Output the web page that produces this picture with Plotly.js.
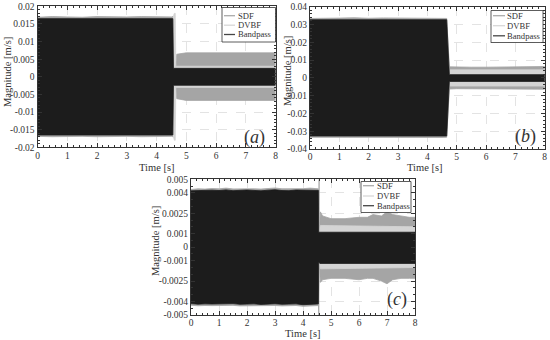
<!DOCTYPE html>
<html>
<head>
<meta charset="utf-8">
<script src="https://cdn.plot.ly/plotly-3.0.1.min.js"></script>
<style>body{margin:0;background:#fff;} #chart{width:550px;height:340px;}</style>
</head>
<body>
<div id="chart"></div>
<script>
// series names / colours
var names = ['SDF', 'DVBF', 'Bandpass'];
var fills = ['rgb(165,165,165)', 'rgb(212,212,212)', 'rgb(28,28,28)'];
var legendLines = ['rgb(170,170,170)', 'rgb(215,215,215)', 'rgb(70,70,70)'];

var xTicks = [0, 1, 2, 3, 4, 5, 6, 7, 8];

// (a) envelopes
var aSdfT  = [0, 0.5, 1, 1.5, 2, 2.5, 3, 3.5, 4, 4.5, 4.55, 4.56, 4.63, 4.68, 5, 5.5, 6, 6.5, 7, 7.5, 8];
var aSdfUp = [0.0169, 0.0171, 0.0170, 0.0169, 0.0171, 0.0170, 0.0170, 0.0171, 0.0170, 0.0170, 0.0171, 0.002, 0.002, 0.0064, 0.0068, 0.0068, 0.0068, 0.0068, 0.0068, 0.0068, 0.0068];
var aSdfLo = [-0.0169, -0.0170, -0.0170, -0.0169, -0.0170, -0.0170, -0.0169, -0.0170, -0.0170, -0.0169, -0.0170, -0.002, -0.002, -0.0062, -0.0067, -0.0067, -0.0067, -0.0067, -0.0067, -0.0067, -0.0067];
var aDvbfT  = [0, 4.55, 4.58, 4.6, 4.63, 4.65, 8];
var aDvbfUp = [0.0163, 0.0163, 0.0175, 0.0180, 0.0180, 0.0030, 0.0030];
var aDvbfLo = [-0.0163, -0.0163, -0.0175, -0.0180, -0.0180, -0.0030, -0.0030];
var aBandT  = [0, 4.55, 4.57, 8];
var aBandUp = [0.0165, 0.0165, 0.0024, 0.0024];
var aBandLo = [-0.0165, -0.0165, -0.0024, -0.0024];
var aYTicks = [-0.02, -0.015, -0.01, -0.005, 0, 0.005, 0.01, 0.015, 0.02];
var aYText  = ['-0.02', '-0.015', '-0.01', '-0.005', '0', '0.005', '0.01', '0.015', '0.02'];

// (b)
var bSdfT  = [0, 0.5, 1, 1.5, 2, 2.5, 3, 3.5, 4, 4.5, 4.66, 4.75, 5, 5.5, 6, 6.5, 7, 7.5, 8];
var bSdfUp = [0.0334, 0.0337, 0.0336, 0.0338, 0.0335, 0.0337, 0.0336, 0.0337, 0.0335, 0.0336, 0.0334, 0.0062, 0.0060, 0.0060, 0.0060, 0.0061, 0.0061, 0.0062, 0.0064];
var bSdfLo = [-0.0334, -0.0336, -0.0336, -0.0337, -0.0335, -0.0336, -0.0336, -0.0337, -0.0335, -0.0335, -0.0334, -0.0063, -0.0061, -0.0061, -0.0061, -0.0061, -0.0062, -0.0063, -0.0064];
var bDvbfT  = [0, 4.66, 4.75, 8];
var bDvbfUp = [0.0326, 0.0326, 0.0045, 0.0045];
var bDvbfLo = [-0.0326, -0.0326, -0.0046, -0.0046];
var bBandT  = [0, 4.66, 4.75, 8];
var bBandUp = [0.0327, 0.0327, 0.0018, 0.0018];
var bBandLo = [-0.0327, -0.0327, -0.0020, -0.0020];
var bYTicks = [-0.04, -0.03, -0.02, -0.01, 0, 0.01, 0.02, 0.03, 0.04];
var bYText  = ['-0.04', '-0.03', '-0.02', '-0.01', '0', '0.01', '0.02', '0.03', '0.04'];

// (c)
var cSdfT  = [0, 0.25, 0.5, 0.75, 1, 1.25, 1.5, 1.75, 2, 2.25, 2.5, 2.75, 3, 3.25, 3.5, 3.75, 4, 4.25, 4.5, 4.55, 4.56, 4.565, 4.575, 4.58, 4.62, 4.7, 5, 5.5, 6, 6.3, 6.5, 6.8, 7, 7.2, 7.5, 7.8, 8];
var cSdfUp = [0.00425, 0.00430, 0.00428, 0.00432, 0.00430, 0.00435, 0.00429, 0.00431, 0.00433, 0.00430, 0.00428, 0.00432, 0.00436, 0.00430, 0.00429, 0.00433, 0.00431, 0.00435, 0.00432, 0.00430, 0.0011, 0.0050, 0.0050, 0.0011, 0.0026, 0.0023, 0.0021, 0.0021, 0.0022, 0.0022, 0.0024, 0.0023, 0.0026, 0.0024, 0.0023, 0.0022, 0.0022];
var cSdfLo = [-0.00428, -0.00432, -0.00430, -0.00431, -0.00434, -0.00430, -0.00429, -0.00433, -0.00431, -0.00430, -0.00434, -0.00431, -0.00430, -0.00433, -0.00432, -0.00430, -0.00436, -0.00433, -0.00431, -0.00430, -0.0011, -0.0050, -0.0050, -0.0011, -0.0026, -0.0024, -0.0023, -0.0023, -0.0024, -0.0023, -0.0023, -0.0025, -0.0027, -0.0024, -0.0023, -0.0023, -0.0023];
var cDvbfT  = [0, 4.55, 4.58, 4.62, 8];
var cDvbfUp = [0.0041, 0.0041, 0.0011, 0.0016, 0.0015];
var cDvbfLo = [-0.0041, -0.0041, -0.0011, -0.0016, -0.0015];
var cBandT  = [0, 0.25, 0.5, 0.75, 1, 1.25, 1.5, 1.75, 2, 2.25, 2.5, 2.75, 3, 3.25, 3.5, 3.75, 4, 4.25, 4.5, 4.55, 4.56, 4.6, 8];
var cBandUp = [0.00415, 0.00418, 0.00416, 0.00420, 0.00417, 0.00422, 0.00416, 0.00419, 0.00421, 0.00418, 0.00415, 0.00420, 0.00423, 0.00417, 0.00416, 0.00421, 0.00419, 0.00422, 0.00420, 0.00418, 0.0011, 0.0011, 0.0011];
var cBandLo = [-0.00416, -0.00420, -0.00418, -0.00419, -0.00422, -0.00417, -0.00416, -0.00421, -0.00419, -0.00418, -0.00422, -0.00419, -0.00417, -0.00421, -0.00420, -0.00418, -0.00424, -0.00421, -0.00419, -0.00418, -0.0011, -0.0012, -0.0012];
var cYTicks = [-0.005, -0.004, -0.0025, -0.001, 0, 0.001, 0.0025, 0.004, 0.005];
var cYText  = ['-0.005', '-0.004', '-0.0025', '-0.001', '0', '0.001', '0.0025', '0.004', '0.005'];

var serif = '"Liberation Serif", "DejaVu Serif", serif';

function band(t, up, lo, i, xa, ya) {
    var rt = t.slice().reverse();
    var rl = lo.slice().reverse();
    return {
        x: t.concat(rt),
        y: up.concat(rl),
        xaxis: xa, yaxis: ya,
        type: 'scatter', mode: 'lines',
        fill: 'toself', fillcolor: fills[i],
        line: {color: fills[i], width: 0.8},
        hoverinfo: 'skip', showlegend: false
    };
}

var data = [
    band(aSdfT, aSdfUp, aSdfLo, 0, 'x', 'y'),
    band(aDvbfT, aDvbfUp, aDvbfLo, 1, 'x', 'y'),
    band(aBandT, aBandUp, aBandLo, 2, 'x', 'y'),
    band(bSdfT, bSdfUp, bSdfLo, 0, 'x2', 'y2'),
    band(bDvbfT, bDvbfUp, bDvbfLo, 1, 'x2', 'y2'),
    band(bBandT, bBandUp, bBandLo, 2, 'x2', 'y2'),
    band(cSdfT, cSdfUp, cSdfLo, 0, 'x3', 'y3'),
    band(cDvbfT, cDvbfUp, cDvbfLo, 1, 'x3', 'y3'),
    band(cBandT, cBandUp, cBandLo, 2, 'x3', 'y3')
];

function px(v) { return v / 550; }
function py(v) { return 1 - v / 340; }

function xaxis(dom, anchor) {
    return {
        domain: dom, anchor: anchor, range: [0, 8],
        tickvals: xTicks, ticktext: xTicks.map(String),
        ticks: 'inside', ticklen: 4, tickcolor: '#333',
        showline: true, linecolor: '#333', linewidth: 1, mirror: 'allticks',
        showgrid: true, gridcolor: '#dcdcdc', griddash: 'dash', gridwidth: 0.8,
        zeroline: false, ticklabelstandoff: -1,
        minor: {dtick: 0.2, ticks: 'inside', ticklen: 2, tickcolor: '#333', showgrid: false},
        tickfont: {family: serif, size: 9.5, color: '#333'}
    };
}
function yaxis(dom, anchor, lim, tv, tt, minorStep) {
    return {
        domain: dom, anchor: anchor, range: [-lim, lim],
        tickmode: 'array', tickvals: tv, ticktext: tt,
        ticks: 'inside', ticklen: 4, tickcolor: '#333',
        showline: true, linecolor: '#333', linewidth: 1, mirror: 'allticks',
        showgrid: true, gridcolor: '#dcdcdc', griddash: 'dash', gridwidth: 0.8,
        zeroline: false,
        minor: {tickmode: 'linear', tick0: 0, dtick: minorStep, ticks: 'inside', ticklen: 2, tickcolor: '#333', showgrid: false},
        tickfont: {family: serif, size: 9.5, color: '#333'}
    };
}

var shapes = [];
var annotations = [];

function legendBox(l, t, r, b, rows, lx0, lx1, tx) {
    shapes.push({type: 'rect', xref: 'paper', yref: 'paper',
        x0: px(l), x1: px(r), y0: py(b), y1: py(t),
        fillcolor: 'white', line: {color: '#333', width: 0.8}});
    for (var i = 0; i < names.length; i++) {
        shapes.push({type: 'line', xref: 'paper', yref: 'paper',
            x0: px(lx0), x1: px(lx1), y0: py(rows[i]), y1: py(rows[i]),
            line: {color: legendLines[i], width: 1.3}});
        annotations.push({xref: 'paper', yref: 'paper', x: px(tx), y: py(rows[i]),
            xanchor: 'left', yanchor: 'middle', showarrow: false, text: names[i],
            borderpad: 0, font: {family: serif, size: 8.6, color: '#333'}});
    }
}
legendBox(222, 7.5, 275.5, 42, [15.7, 25.2, 34.5], 224, 235, 236.5);
legendBox(491, 10.5, 543, 42.5, [15.7, 25.7, 35.8], 493, 505, 506);
legendBox(361, 181.5, 411, 212.5, [185.7, 196, 205.7], 363, 374, 375.5);

function label(x, y, txt, size, angle) {
    annotations.push({xref: 'paper', yref: 'paper', x: px(x), y: py(y),
        xanchor: 'center', yanchor: 'middle', showarrow: false, text: txt,
        textangle: angle || 0, font: {family: serif, size: size, color: '#333'}});
}
label(7, 72, 'Magnitude [m/s]', 10.5, -90);
label(157, 167, 'Time [s]', 10.5);
label(287, 71, 'Magnitude [m/s]', 10.5, -90);
label(425, 167, 'Time [s]', 10.5);
label(155, 241, 'Magnitude [m/s]', 10.5, -90);
label(303, 333, 'Time [s]', 10.5);
label(254, 137, '(<i>a</i>)', 18);
label(525, 136, '(<i>b</i>)', 18);
label(397, 299, '(<i>c</i>)', 18);

var layout = {
    width: 550, height: 340,
    margin: {l: 0, r: 0, t: 0, b: 0},
    paper_bgcolor: 'white', plot_bgcolor: 'white',
    showlegend: false,
    font: {family: serif},
    xaxis: xaxis([px(37.5), px(275.5)], 'y'),
    yaxis: yaxis([py(147.3), py(6.3)], 'x', 0.02, aYTicks, aYText, 0.001),
    xaxis2: xaxis([px(310), px(544.7)], 'y2'),
    yaxis2: yaxis([py(149), py(6.7)], 'x2', 0.04, bYTicks, bYText, 0.002),
    xaxis3: xaxis([px(191), px(415)], 'y3'),
    yaxis3: yaxis([py(315), py(179.3)], 'x3', 0.005, cYTicks, cYText, 0.0005),
    shapes: shapes,
    annotations: annotations
};

Plotly.newPlot('chart', data, layout, {displayModeBar: false, staticPlot: true});
</script>
</body>
</html>
